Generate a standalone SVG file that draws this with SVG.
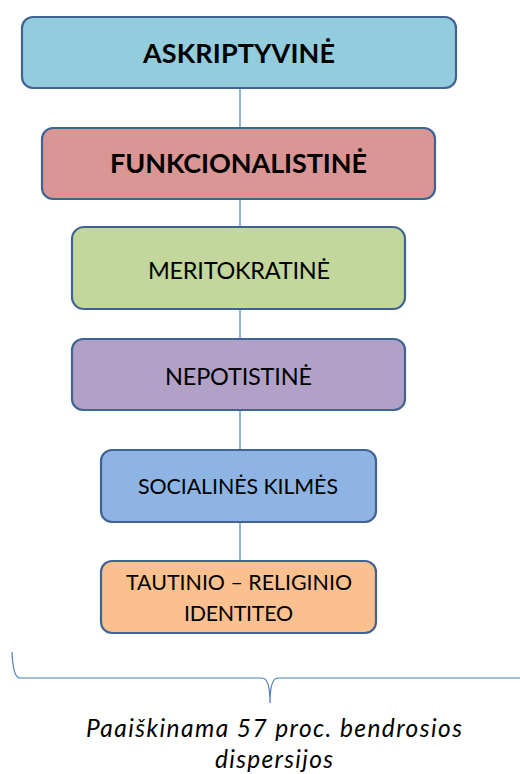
<svg xmlns="http://www.w3.org/2000/svg" width="520" height="774" viewBox="0 0 520 774">
<style>
.box{stroke:#3F6493;stroke-width:2.2}
.t{font-family:Lato,"Noto Sans","Liberation Sans",sans-serif;fill:#000;text-anchor:middle}
.b{font-weight:bold;font-size:27px}
.n{font-size:23.5px}
.s{font-size:21.4px}
.i{font-style:italic;font-size:24.5px}
.c{stroke:#4A7EBB;stroke-width:1.2;fill:none}
</style>
<rect width="520" height="774" fill="#fff"/>
<g id="connectors">
<line class="c" x1="240" y1="88" x2="240" y2="128"/>
<line class="c" x1="240" y1="199" x2="240" y2="227"/>
<line class="c" x1="240" y1="309" x2="240" y2="339"/>
<line class="c" x1="240" y1="410" x2="240" y2="450"/>
<line class="c" x1="240" y1="522" x2="240" y2="561"/>
<path class="c" d="M12,652 Q13,678 20,678 L262,678 Q270,678 270,703 Q270,678 278,678 L520,678"/>
</g>
<g id="n1"><rect class="box" x="22" y="17" width="434" height="71" rx="11" fill="#93CDDD"/><text class="t b" x="239" y="63" textLength="192">ASKRIPTYVINĖ</text></g>
<g id="n2"><rect class="box" x="42" y="128" width="393" height="71" rx="11" fill="#D99694"/><text class="t b" x="238.5" y="173" textLength="257">FUNKCIONALISTINĖ</text></g>
<g id="n3"><rect class="box" x="72" y="227" width="333" height="82" rx="12" fill="#C3D69B"/><text class="t n" x="239" y="279" textLength="182">MERITOKRATINĖ</text></g>
<g id="n4"><rect class="box" x="72" y="339" width="333" height="71" rx="11" fill="#B2A1C7"/><text class="t n" x="238.5" y="385" textLength="147">NEPOTISTINĖ</text></g>
<g id="n5"><rect class="box" x="101" y="450" width="275" height="72" rx="11" fill="#8EB4E3"/><text class="t s" x="238" y="494" textLength="200">SOCIALINĖS KILMĖS</text></g>
<g id="n6"><rect class="box" x="101" y="561" width="275" height="72" rx="11" fill="#FAC090"/><text class="t s" x="239" y="590" textLength="226">TAUTINIO – RELIGINIO</text><text class="t s" x="238.5" y="621" textLength="109">IDENTITEO</text></g>
<g id="label"><text class="t i" x="274" y="737" textLength="376">Paaiškinama 57 proc. bendrosios</text><text class="t i" x="274" y="768" textLength="118">dispersijos</text></g>
</svg>
